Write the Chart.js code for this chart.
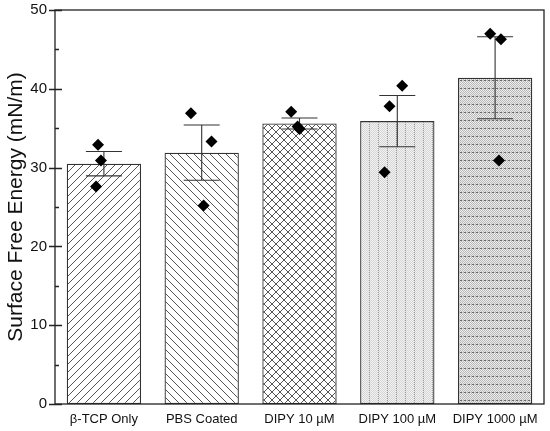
<!DOCTYPE html>
<html>
<head>
<meta charset="utf-8">
<script src="https://cdn.jsdelivr.net/npm/chart.js@4/dist/chart.umd.min.js"></script>
<style>
  html, body { margin: 0; padding: 0; background: #fff; }
  #wrap { width: 550px; height: 431px; }
</style>
</head>
<body>
<div id="wrap"><canvas id="chart"></canvas></div>
<script>
// groups along the x axis
const groups = ['β-TCP Only', 'PBS Coated', 'DIPY 10 µM', 'DIPY 100 µM', 'DIPY 1000 µM'];
// bar heights (mean) and error bar half-lengths (SD)
const means = [30.5, 31.9, 35.6, 35.9, 41.4];
const sds = [1.55, 3.5, 0.7, 3.25, 5.2];
// the three replicate points per group
const rep1 = [32.9, 36.9, 37.1, 40.4, 47.0];
const rep2 = [30.9, 33.3, 34.9, 37.8, 46.3];
const rep3 = [27.6, 25.2, 35.2, 29.4, 30.9];
// horizontal jitter of the replicate points, in category units
const jit1 = [-0.06, -0.11, -0.085, 0.05, -0.05];
const jit2 = [-0.03, 0.10, 0.0, -0.08, 0.06];
const jit3 = [-0.08, 0.02, -0.02, -0.13, 0.04];
const yTicks = [0, 10, 20, 30, 40, 50];

const FONT = '"Liberation Sans", Arial, sans-serif';

// fill patterns for the bars
function makeTile(w, h, paint) {
    const c = document.createElement('canvas');
    c.width = w; c.height = h;
    const g = c.getContext('2d');
    g.fillStyle = '#fff';
    g.fillRect(0, 0, w, h);
    paint(g, w, h);
    return g.createPattern(c, 'repeat');
}

function diag(g, s, dir) {
    g.beginPath();
    if (dir > 0) {
        g.moveTo(-1, s + 1); g.lineTo(s + 1, -1);
        g.moveTo(-1, 1); g.lineTo(1, -1);
        g.moveTo(s - 1, s + 1); g.lineTo(s + 1, s - 1);
    } else {
        g.moveTo(-1, -1); g.lineTo(s + 1, s + 1);
        g.moveTo(s - 1, -1); g.lineTo(s + 1, 1);
        g.moveTo(-1, s - 1); g.lineTo(1, s + 1);
    }
    g.stroke();
}

const ctx = document.getElementById('chart').getContext('2d');

const patterns = [
    makeTile(8, 8, (g, w) => { g.strokeStyle = '#555'; g.lineWidth = 1; diag(g, w, 1); }),
    makeTile(8, 8, (g, w) => { g.strokeStyle = '#555'; g.lineWidth = 1; diag(g, w, -1); }),
    makeTile(8, 8, (g, w) => { g.strokeStyle = '#555'; g.lineWidth = 1; diag(g, w, 1); diag(g, w, -1); }),
    makeTile(9, 2, (g, w, h) => {
        for (let x = 0; x < w; x++) for (let y = 0; y < h; y++) {
            g.fillStyle = (x + y) % 2 ? '#f2f2f2' : '#d6d6d6';
            if (x === 0) g.fillStyle = y % 2 ? '#e0e0e0' : '#9a9a9a';
            g.fillRect(x, y, 1, 1);
        }
    }),
    makeTile(4, 8, (g, w, h) => {
        for (let x = 0; x < w; x++) for (let y = 0; y < h; y++) {
            g.fillStyle = (x + y) % 2 ? '#eeeeee' : '#b8b8b8';
            if (y === 0) g.fillStyle = x < 2 ? '#6a6a6a' : '#c8c8c8';
            g.fillRect(x, y, 1, 1);
        }
    })
];

function pts(rep, jit) {
    return rep.map((v, i) => ({ x: i + jit[i], y: v }));
}

// error bars drawn right after the bars, so the points sit on top
const errorBars = {
    id: 'errorBars',
    afterDatasetDraw(chart, args) {
        if (args.index !== 0) return;
        const y = chart.scales.y;
        const c = chart.ctx;
        c.save();
        c.strokeStyle = '#333';
        c.lineWidth = 1.1;
        args.meta.data.forEach((bar, i) => {
            const top = y.getPixelForValue(means[i] + sds[i]);
            const bot = y.getPixelForValue(means[i] - sds[i]);
            const cap = 18;
            c.beginPath();
            c.moveTo(bar.x, top); c.lineTo(bar.x, bot);
            c.moveTo(bar.x - cap, top); c.lineTo(bar.x + cap, top);
            c.moveTo(bar.x - cap, bot); c.lineTo(bar.x + cap, bot);
            c.stroke();
        });
        c.restore();
    }
};

// frame around the plot and the y tick marks
const frame = {
    id: 'frame',
    afterDraw(chart) {
        const a = chart.chartArea;
        const y = chart.scales.y;
        const c = chart.ctx;
        c.save();
        c.strokeStyle = '#222';
        c.lineWidth = 1.3;
        c.strokeRect(a.left, a.top, a.right - a.left, a.bottom - a.top);
        c.beginPath();
        for (let v = 0; v <= 50; v += 5) {
            const py = Math.round(y.getPixelForValue(v)) + 0.5;
            if (v % 10 === 0) {
                c.moveTo(a.left - 6, py); c.lineTo(a.left + 7, py);
            } else {
                c.moveTo(a.left, py); c.lineTo(a.left + 4, py);
            }
        }
        c.stroke();
        c.restore();
    }
};

new Chart(ctx, {
    data: {
        labels: groups,
        datasets: [
            {
                type: 'bar',
                data: means,
                backgroundColor: patterns,
                borderColor: '#333',
                borderWidth: 1.3,
                borderSkipped: false,
                grouped: false,
                categoryPercentage: 0.76,
                barPercentage: 1.0,
                xAxisID: 'x',
                order: 2
            },
            {
                type: 'scatter',
                data: pts(rep1, jit1).concat(pts(rep2, jit2), pts(rep3, jit3)),
                pointStyle: 'rectRot',
                pointRadius: 6,
                backgroundColor: '#000',
                borderColor: '#000',
                borderWidth: 0,
                xAxisID: 'xp',
                order: 1
            }
        ]
    },
    options: {
        responsive: true,
        maintainAspectRatio: false,
        animation: false,
        layout: { padding: { top: 10, right: 4, left: 0, bottom: 0 } },
        plugins: {
            legend: { display: false },
            tooltip: { enabled: false }
        },
        scales: {
            x: {
                type: 'category',
                offset: true,
                grid: { display: false, drawTicks: false },
                border: { display: false },
                ticks: { color: '#111', font: { family: FONT, size: 13 }, padding: 8, maxRotation: 0 },
                afterFit(s) { s.height = 27; }
            },
            xp: {
                type: 'linear',
                min: -0.5,
                max: 4.5,
                display: false
            },
            y: {
                min: 0,
                max: 50,
                afterBuildTicks(s) { s.ticks = yTicks.map(v => ({ value: v })); },
                grid: { display: false, drawTicks: false },
                border: { display: false },
                ticks: { color: '#111', font: { family: FONT, size: 15 }, padding: 8 },
                title: {
                    display: true,
                    text: 'Surface Free Energy (mN/m)',
                    color: '#111',
                    font: { family: FONT, size: 21 },
                    padding: { top: 4, bottom: 0 }
                },
                afterFit(s) {
                    s.width = 55;
                    s.paddingTop = 0;
                    s.paddingBottom = 0;
                }
            }
        }
    },
    plugins: [errorBars, frame]
});
</script>
</body>
</html>
